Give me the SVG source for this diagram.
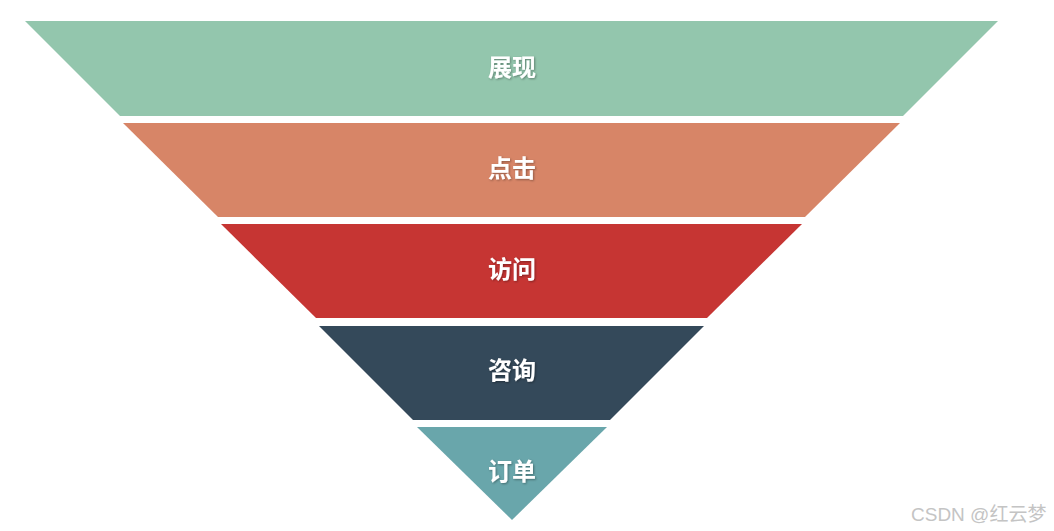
<svg xmlns="http://www.w3.org/2000/svg" width="1054" height="531" viewBox="0 0 1054 531">
<defs>
<style>
.lbl{font-family:"Noto Sans CJK SC","Noto Sans",sans-serif;font-size:24px;font-weight:bold;fill:#ffffff;text-anchor:middle;dominant-baseline:central;filter:url(#sh)}
.wm{font-family:"Liberation Sans","Noto Sans CJK SC",sans-serif;font-size:19px;fill:#c4c4c4}
</style>
<filter id="sh" x="-20%" y="-20%" width="140%" height="140%">
<feDropShadow dx="1" dy="1" stdDeviation="1" flood-color="#000" flood-opacity="0.35"/>
</filter>
</defs>
<rect width="1054" height="531" fill="#ffffff"/>
<g id="band1"><polygon points="25,21 998,21 903,116 120,116" fill="#93c6ad"/><text class="lbl" x="512" y="65">展现</text></g>
<g id="band2"><polygon points="123,123 900,123 805,217 218,217" fill="#d78567"/><text class="lbl" x="512" y="166">点击</text></g>
<g id="band3"><polygon points="221,224 802,224 707,318 316,318" fill="#c63533"/><text class="lbl" x="512" y="267">访问</text></g>
<g id="band4"><polygon points="319,326 704,326 610,420 413,420" fill="#34495a"/><text class="lbl" x="512" y="368">咨询</text></g>
<g id="band5"><polygon points="417,427 607,427 512,520" fill="#69a6ab"/><text class="lbl" x="512" y="469">订单</text></g>
<g id="connectors"></g>
<text class="wm" x="911" y="521">CSDN @红云梦</text>
</svg>
